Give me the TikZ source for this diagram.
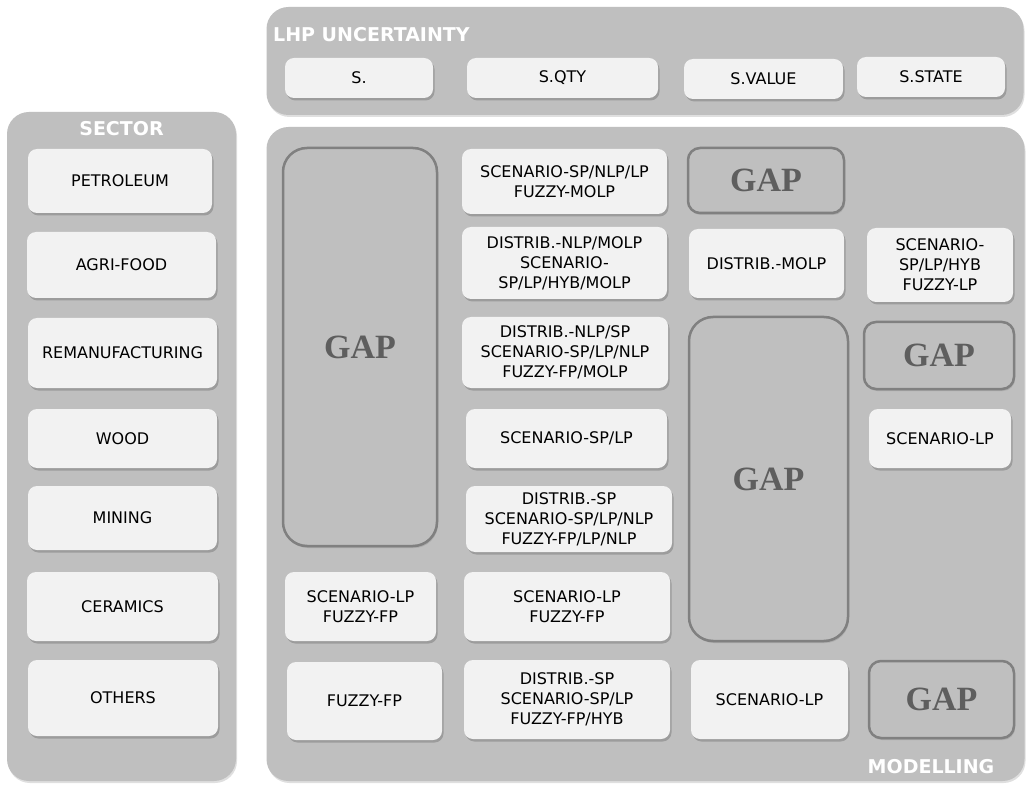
\documentclass[tikz,border=0pt]{standalone}
\usepackage{fontspec}
\setmainfont{DejaVu Sans}
\newfontfamily\gapfont{Liberation Serif}
\usetikzlibrary{shadows}
\definecolor{panelgray}{HTML}{BFBFBF}
\definecolor{cellwhite}{HTML}{F2F2F2}
\definecolor{gapline}{HTML}{808080}
\definecolor{gaptext}{HTML}{5E5E5E}
\begin{document}
\begin{tikzpicture}[x=1pt,y=-1pt,
  panel/.style={fill=panelgray,rounded corners=22pt,drop shadow={shadow xshift=1pt,shadow yshift=-2pt,opacity=.25}},
  cell/.style={fill=cellwhite,rounded corners=9pt,align=center,inner sep=2pt,
    font=\fontsize{16}{20}\selectfont,drop shadow={shadow xshift=1.5pt,shadow yshift=-2.5pt,opacity=.55}},
  gapcell/.style={draw=gapline,line width=2.5pt,fill=panelgray,rounded corners=12pt,text=gaptext,
    font=\gapfont\bfseries\fontsize{34}{34}\selectfont,drop shadow={shadow xshift=1pt,shadow yshift=-2pt,opacity=.3}},
  paneltitle/.style={text=white,inner sep=0pt,font=\bfseries\fontsize{19}{19}\selectfont}]
\useasboundingbox (0,0) rectangle (1028,786);
\fill[white] (0,0) rectangle (1028,786);
% panels
\node[panel,minimum width=757pt,minimum height=108pt] (lhp) at (645,61) {};
\node[panel,minimum width=229pt,minimum height=669pt] (sector) at (121.5,446.5) {};
\node[panel,minimum width=758pt,minimum height=654pt] (modelling) at (645.5,454) {};
\node[paneltitle,anchor=base west] (lhptitle) at (273,42) {LHP UNCERTAINTY};
\node[paneltitle,anchor=base] (sectortitle) at (121.5,136) {SECTOR};
\node[paneltitle,anchor=base] (modtitle) at (931,773) {MODELLING};
% uncertainty
\node[cell,minimum width=148pt,minimum height=40pt] (s) at (359,78) {S.};
\node[cell,minimum width=191pt,minimum height=40pt] (sqty) at (562.5,78) {S.QTY};
\node[cell,minimum width=159pt,minimum height=40pt] (svalue) at (763.5,79) {S.VALUE};
\node[cell,minimum width=148pt,minimum height=40pt] (sstate) at (931,77) {S.STATE};
% sectors
\node[cell,minimum width=184pt,minimum height=64pt] (petroleum) at (120,181) {PETROLEUM};
\node[cell,minimum width=189pt,minimum height=66pt] (agrifood) at (121.5,265) {AGRI-FOOD};
\node[cell,minimum width=189pt,minimum height=70pt] (reman) at (122.5,353) {REMANUFACTURING};
\node[cell,minimum width=189pt,minimum height=59pt] (wood) at (122.5,438.5) {WOOD};
\node[cell,minimum width=189pt,minimum height=64pt] (mining) at (122.5,518) {MINING};
\node[cell,minimum width=191pt,minimum height=69pt] (ceramics) at (122.5,606.5) {CERAMICS};
\node[cell,minimum width=190pt,minimum height=76pt] (others) at (123,698) {OTHERS};
% modelling, column 1
\node[gapcell,rounded corners=24pt,minimum width=154pt,minimum height=398pt] (gapa) at (360,347) {GAP};
\node[cell,minimum width=151pt,minimum height=69pt] (sclpa) at (360.5,606.5) {SCENARIO-LP\\FUZZY-FP};
\node[cell,minimum width=155pt,minimum height=78pt] (fuzzyfp) at (364.5,701) {FUZZY-FP};
% column 2
\node[cell,minimum width=205pt,minimum height=65pt] (ca) at (564.5,181.5) {SCENARIO-SP/NLP/LP\\FUZZY-MOLP};
\node[cell,minimum width=205pt,minimum height=72pt] (cb) at (564.5,263) {DISTRIB.-NLP/MOLP\\SCENARIO-\\SP/LP/HYB/MOLP};
\node[cell,minimum width=206pt,minimum height=71pt] (cc) at (565,352.5) {DISTRIB.-NLP/SP\\SCENARIO-SP/LP/NLP\\FUZZY-FP/MOLP};
\node[cell,minimum width=201pt,minimum height=59pt] (cd) at (566.5,438.5) {SCENARIO-SP/LP};
\node[cell,minimum width=206pt,minimum height=66pt] (ce) at (569,519) {DISTRIB.-SP\\SCENARIO-SP/LP/NLP\\FUZZY-FP/LP/NLP};
\node[cell,minimum width=206pt,minimum height=69pt] (cf) at (567,606.5) {SCENARIO-LP\\FUZZY-FP};
\node[cell,minimum width=206pt,minimum height=79pt] (cg) at (567,699.5) {DISTRIB.-SP\\SCENARIO-SP/LP\\FUZZY-FP/HYB};
% column 3
\node[gapcell,minimum width=156pt,minimum height=65pt] (gapb) at (766,180.5) {GAP};
\node[cell,minimum width=155pt,minimum height=69pt] (dmolp) at (766.5,263.5) {DISTRIB.-MOLP};
\node[gapcell,rounded corners=24pt,minimum width=159pt,minimum height=324pt] (gapc) at (768.5,479) {GAP};
\node[cell,minimum width=157pt,minimum height=79pt] (sclpb) at (769.5,699.5) {SCENARIO-LP};
% column 4
\node[cell,minimum width=146pt,minimum height=74pt] (hyb) at (940,265) {SCENARIO-\\SP/LP/HYB\\FUZZY-LP};
\node[gapcell,minimum width=150pt,minimum height=67pt] (gapd) at (939,355.5) {GAP};
\node[cell,minimum width=142pt,minimum height=59pt] (sclpc) at (940,438.5) {SCENARIO-LP};
\node[gapcell,minimum width=145pt,minimum height=77pt] (gape) at (941.5,699.5) {GAP};
\end{tikzpicture}
\end{document}
